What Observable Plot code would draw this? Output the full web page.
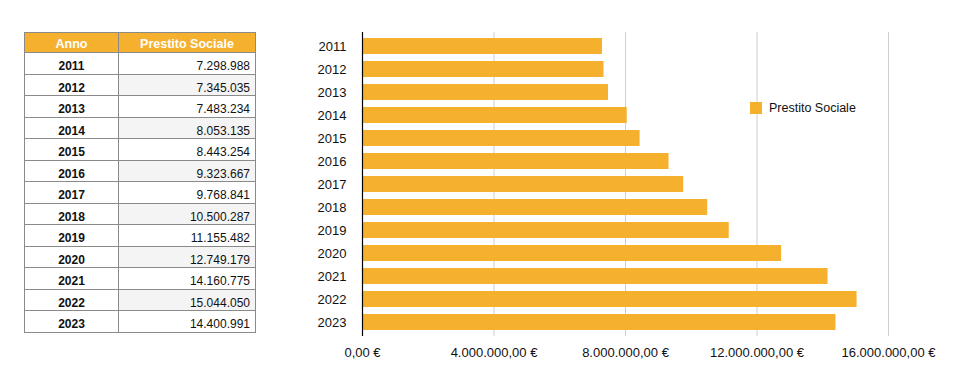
<!DOCTYPE html>
<html>
<head>
<meta charset="utf-8">
<script src="https://cdn.jsdelivr.net/npm/d3@7"></script>
<script src="https://cdn.jsdelivr.net/npm/@observablehq/plot@0.6"></script>
<style>
  body { margin: 0; background: #fff; font-family: "Liberation Sans", Arial, Helvetica, sans-serif; }
  #wrap { position: relative; width: 961px; height: 392px; }
  #chart { position: absolute; left: 0; top: 0; }
  table { position: absolute; left: 24px; top: 32px; border-collapse: collapse; font-size: 12px; color: #111; }
  th, td { border: 1px solid #8a8a8a; height: 15px; padding: 5.5px 5px 0 5px; line-height: 1; }
  th { background: #F5B12E; color: #fff; font-weight: bold; font-size: 12.5px; height: 16px; padding-top: 3px; }
  th:first-child, td:first-child { width: 83px; text-align: center; font-weight: bold; }
  th:last-child, td:last-child { width: 126px; }
  td:last-child { text-align: right; }
  tr.alt td:last-child { background: #f4f4f4; }
  #legend { position: absolute; left: 750px; top: 101px; display: flex; align-items: center; font-size: 12.5px; color: #111; }
  #legend span.sw { display: inline-block; width: 12px; height: 12px; background: #F5B12E; margin-right: 7px; }
</style>
</head>
<body>
<div id="wrap">
  <div id="chart"></div>
  <table id="tbl"></table>
  <div id="legend"><span class="sw"></span><span>Prestito Sociale</span></div>
</div>
<script>
const anni = ["2011","2012","2013","2014","2015","2016","2017","2018","2019","2020","2021","2022","2023"];
const prestitoSociale = [7298988, 7345035, 7483234, 8053135, 8443254, 9323667, 9768841, 10500287, 11155482, 12749179, 14160775, 15044050, 14400991];
const xTicks = [0, 4000000, 8000000, 12000000, 16000000];
const serie = "Prestito Sociale";
const colore = "#F5B12E";

const it = d3.formatLocale({decimal: ",", thousands: ".", grouping: [3], currency: ["", " €"]});
const fmtEuro = it.format("$,.2f");
const fmtInt = it.format(",d");

const data = anni.map((a, i) => ({anno: a, valore: prestitoSociale[i]}));

// table
const tbl = document.getElementById("tbl");
let html = `<tr><th>Anno</th><th>${serie}</th></tr>`;
data.forEach((d, i) => {
  html += `<tr class="${i % 2 === 1 ? "alt" : ""}"><td>${d.anno}</td><td>${fmtInt(d.valore)}</td></tr>`;
});
tbl.innerHTML = html;

const chart = Plot.plot({
  width: 961,
  height: 392,
  marginLeft: 362,
  marginRight: 73,
  marginTop: 32,
  marginBottom: 56,
  style: {fontFamily: "'Liberation Sans', Arial, Helvetica, sans-serif", fontSize: "13px", color: "#111"},
  x: {domain: [0, 16000000], ticks: xTicks, tickFormat: fmtEuro, tickSize: 0, tickPadding: 11, label: null},
  y: {domain: anni, paddingInner: 0.3, paddingOuter: 0.21, tickSize: 0, tickPadding: 16, label: null},
  marks: [
    Plot.ruleX(xTicks.slice(1), {stroke: "#cfcfcf", strokeWidth: 1}),
    Plot.barX(data, {y: "anno", x: "valore", fill: colore}),
    Plot.ruleX([0], {stroke: "#000", strokeWidth: 1.2})
  ]
});
document.getElementById("chart").appendChild(chart);
</script>
</body>
</html>
